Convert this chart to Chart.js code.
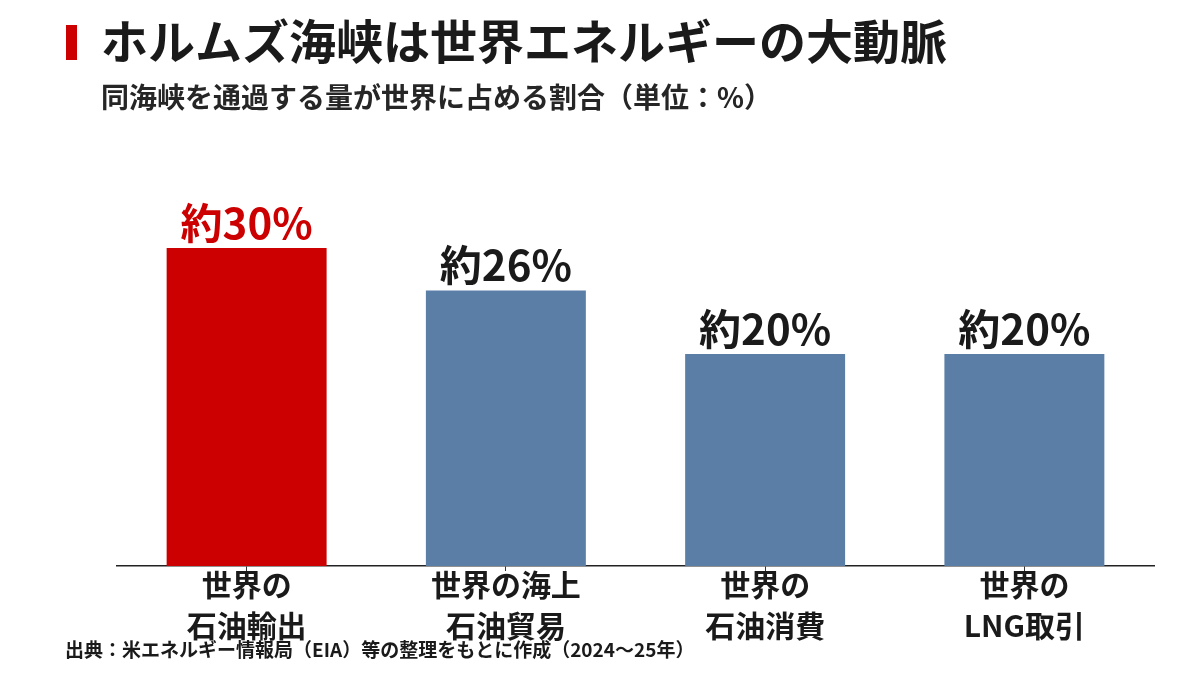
<!DOCTYPE html>
<html lang="ja">
<head>
<meta charset="utf-8">
<title>ホルムズ海峡は世界エネルギーの大動脈</title>
<script src="https://cdn.jsdelivr.net/npm/chart.js@4.4.1/dist/chart.umd.min.js"></script>
<style>
	html, body { margin: 0; padding: 0; background: #ffffff; }
	#wrap { width: 1200px; height: 675px; position: relative; }
</style>
</head>
<body>
<div id="wrap"><canvas id="chart"></canvas></div>
<script>
// data
const categories = [["世界の", "石油輸出"], ["世界の海上", "石油貿易"], ["世界の", "石油消費"], ["世界の", "LNG取引"]];
const shares = [30, 26, 20, 20];
const valuePrefix = "約";
const valueSuffix = "%";

const titleText = "ホルムズ海峡は世界エネルギーの大動脈";
const subtitleText = "同海峡を通過する量が世界に占める割合（単位：%）";
const sourceText = "出典：米エネルギー情報局（EIA）等の整理をもとに作成（2024～25年）";

const redColor = "#cc0000";
const blueColor = "#5b7ea7";
const textColor = "#1a1a1a";
const fontFamily = "'Noto Sans CJK JP', 'Noto Sans', sans-serif";

const barColors = shares.map((v, i) => i === 0 ? redColor : blueColor);
const labelColors = shares.map((v, i) => i === 0 ? redColor : textColor);

/**
 * draws the heading, subheading and source note, plus the values over the bars
 */
const decorations = {
	id: 'decorations',
	beforeDraw(chart) {
		const ctx = chart.ctx;
		ctx.save();
		ctx.fillStyle = "#ffffff";
		ctx.fillRect(0, 0, chart.width, chart.height);
		ctx.restore();
	},
	afterDraw(chart) {
		const ctx = chart.ctx;
		ctx.save();
		// red marker in front of the title
		ctx.fillStyle = redColor;
		ctx.fillRect(66, 25, 11, 35);

		ctx.fillStyle = textColor;
		ctx.textAlign = 'left';
		ctx.textBaseline = 'middle';
		ctx.font = "bold 47px " + fontFamily;
		ctx.fillText(titleText, 101, 41);

		ctx.font = "bold 28px " + fontFamily;
		ctx.fillStyle = "#262626";
		ctx.fillText(subtitleText, 101, 97);

		ctx.font = "bold 19px " + fontFamily;
		ctx.fillStyle = textColor;
		ctx.fillText(sourceText, 65, 650);

		// value labels on top of the bars
		const meta = chart.getDatasetMeta(0);
		ctx.textAlign = 'center';
		ctx.textBaseline = 'alphabetic';
		ctx.font = "bold 42px " + fontFamily;
		meta.data.forEach((bar, i) => {
			ctx.fillStyle = labelColors[i];
			ctx.fillText(valuePrefix + shares[i] + valueSuffix, bar.x, bar.y - 9);
		});
		ctx.restore();
	}
};

new Chart(document.getElementById('chart'), {
	type: 'bar',
	data: {
		labels: categories,
		datasets: [{
			data: shares,
			backgroundColor: barColors,
			borderWidth: 0,
			categoryPercentage: 1,
			barPercentage: 0.617
		}]
	},
	options: {
		responsive: true,
		maintainAspectRatio: false,
		animation: false,
		layout: {
			padding: { top: 195, left: 117, right: 46, bottom: 0 }
		},
		plugins: {
			legend: { display: false },
			tooltip: { enabled: false },
			title: { display: false }
		},
		scales: {
			x: {
				afterFit(scale) {
					scale.height = 109;
				},
				grid: {
					display: true,
					offset: false,
					drawOnChartArea: false,
					drawTicks: true,
					tickLength: 5,
					tickColor: "#333333",
					tickWidth: 1
				},
				border: {
					display: true,
					color: "#222222",
					width: 1.5
				},
				ticks: {
					color: textColor,
					padding: -7,
					maxRotation: 0,
					autoSkip: false,
					font: { family: fontFamily, size: 30, weight: 'bold', lineHeight: 1.37 }
				}
			},
			y: {
				display: false,
				min: 0,
				max: 35
			}
		}
	},
	plugins: [decorations]
});
</script>
</body>
</html>
